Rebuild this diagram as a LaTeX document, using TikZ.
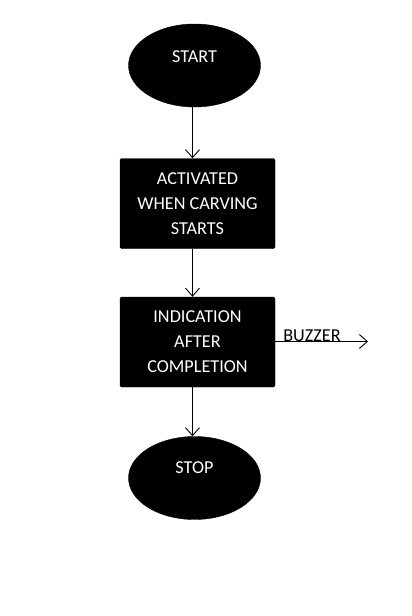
\documentclass[tikz,border=0pt]{standalone}
\usepackage{fontspec}
\setmainfont{Carlito}
\usetikzlibrary{shapes.geometric,arrows.meta}
\begin{document}
\begin{tikzpicture}[x=1pt,y=-1pt,
  term/.style={ellipse,fill=black,draw=black,minimum width=132pt,minimum height=83pt,inner sep=0pt},
  procbox/.style={rectangle,rounded corners=1.5pt,fill=black,draw=black,minimum width=155pt,minimum height=90pt,inner sep=0pt,
    text=white,align=center,font=\fontsize{18.2}{25}\selectfont},
  txt/.style={text=white,font=\fontsize{18.2}{25}\selectfont,inner sep=0pt},
  lbl/.style={text=black,font=\fontsize{18.2}{25}\selectfont,inner sep=0pt},
  arr/.style={draw=black,line width=0.9pt,-{Straight Barb[length=8pt,width=14pt,line width=0.9pt]}}]
\useasboundingbox (0,0) rectangle (412,616);
\node[term] (start) at (194.5,65.5) {};
\node[txt] (starttxt) at (194.5,57) {START};
\node[procbox] (box1) at (197.5,203.5) {\rule{0pt}{0pt}\raisebox{-1pt}{ACTIVATED}\\\raisebox{-1pt}{WHEN CARVING}\\\raisebox{-1pt}{STARTS}};
\node[procbox] (box2) at (197.5,342) {\raisebox{-1pt}{INDICATION}\\\raisebox{-1pt}{AFTER}\\\raisebox{-1pt}{COMPLETION}};
\node[term] (stop) at (194.5,478) {};
\node[txt] (stoptxt) at (194.5,468) {STOP};
\coordinate (bz) at (368,341.5);
\node[lbl] (buzzer) at (312,335.5) {BUZZER};
\draw[arr] ([xshift=-2pt]start.south) -- ([xshift=-2pt]start.south |- box1.north);
\draw[arr] ([xshift=-5pt]box1.south) -- ([xshift=-5pt]box1.south |- box2.north);
\draw[arr] ([xshift=-5pt]box2.south) -- ([xshift=-5pt]box2.south |- stop.north);
\draw[arr] (box2.east |- bz) -- (bz);
\end{tikzpicture}
\end{document}
